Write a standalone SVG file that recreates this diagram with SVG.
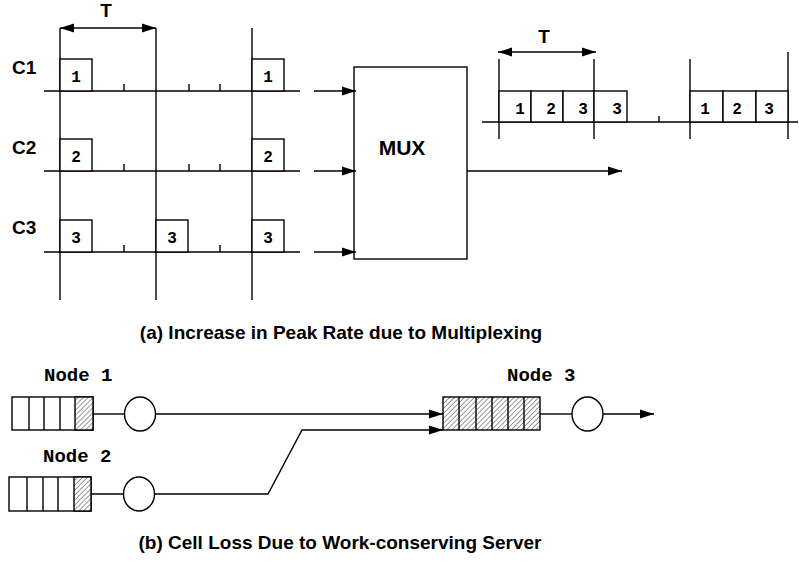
<svg xmlns="http://www.w3.org/2000/svg" width="799" height="564" viewBox="0 0 799 564">
<defs>
<style>
.ln{stroke:#000;stroke-width:1.4;fill:none}
.bx{stroke:#000;stroke-width:1.4;fill:#fff}
.hb{stroke:#000;stroke-width:1.4;fill:url(#hatch)}
.lbl{font-family:"Liberation Sans",Arial,sans-serif;font-weight:bold;font-size:19px;fill:#000}
.dg{font-family:"Liberation Mono","Courier New",monospace;font-weight:bold;font-size:16px;fill:#000;text-anchor:middle}
.nd{font-family:"Liberation Mono","Courier New",monospace;font-weight:bold;font-size:19px;fill:#000}
.cap{font-family:"Liberation Sans",Arial,sans-serif;font-weight:bold;font-size:19px;fill:#000;text-anchor:middle}
</style>
<marker id="arr" markerUnits="userSpaceOnUse" markerWidth="14" markerHeight="10" refX="14" refY="4.5" orient="auto-start-reverse" viewBox="0 0 14 9">
<path d="M0,0 L14,4.5 L0,9 z" fill="#000"/>
</marker>
<pattern id="hatch" patternUnits="userSpaceOnUse" width="3.5" height="3.5" patternTransform="rotate(45)">
<rect width="3.5" height="3.5" fill="#fff"/>
<line x1="0" y1="0" x2="0" y2="3.5" stroke="#444" stroke-width="1.1"/>
</pattern>
</defs>
<rect width="799" height="564" fill="#fff"/>

<!-- Part (a) -->
<g id="frame-left">
<line class="ln" x1="60" y1="28" x2="60" y2="300"/>
<line class="ln" x1="156" y1="28" x2="156" y2="300"/>
<line class="ln" x1="252" y1="28" x2="252" y2="300"/>
<line class="ln" x1="60" y1="28" x2="156" y2="28" marker-start="url(#arr)" marker-end="url(#arr)"/>
<text class="lbl" x="106" y="17" text-anchor="middle">T</text>
</g>

<g id="C1">
<text class="lbl" x="12" y="74">C1</text>
<line class="ln" x1="44" y1="91" x2="300" y2="91"/>
<path class="ln" d="M124,84V91M189,84V91M220,84V91"/>
<rect class="bx" x="60" y="59" width="32" height="32"/>
<text class="dg" x="76" y="82">1</text>
<rect class="bx" x="252" y="59" width="32" height="32"/>
<text class="dg" x="268" y="82">1</text>
</g>

<g id="C2">
<text class="lbl" x="12" y="154">C2</text>
<line class="ln" x1="44" y1="171" x2="300" y2="171"/>
<path class="ln" d="M124,164V171M189,164V171M220,164V171"/>
<rect class="bx" x="60" y="139" width="32" height="32"/>
<text class="dg" x="76" y="162">2</text>
<rect class="bx" x="252" y="139" width="32" height="32"/>
<text class="dg" x="268" y="162">2</text>
</g>

<g id="C3">
<text class="lbl" x="12" y="234">C3</text>
<line class="ln" x1="44" y1="252" x2="300" y2="252"/>
<path class="ln" d="M124,245V252M220,245V252"/>
<rect class="bx" x="60" y="220" width="32" height="32"/>
<text class="dg" x="76" y="243">3</text>
<rect class="bx" x="156" y="220" width="32" height="32"/>
<text class="dg" x="172" y="243">3</text>
<rect class="bx" x="252" y="220" width="32" height="32"/>
<text class="dg" x="268" y="243">3</text>
</g>

<g id="MUX">
<rect class="bx" x="354" y="67" width="113" height="192"/>
<text class="lbl" x="402" y="155" text-anchor="middle" style="font-size:21px">MUX</text>
</g>

<g id="output-stream">
<line class="ln" x1="482" y1="122" x2="798" y2="122"/>
<line class="ln" x1="499" y1="59" x2="499" y2="139"/>
<line class="ln" x1="594" y1="59" x2="594" y2="139"/>
<line class="ln" x1="690" y1="59" x2="690" y2="139"/>
<line class="ln" x1="788" y1="52" x2="788" y2="139"/>
<line class="ln" x1="659" y1="116" x2="659" y2="122"/>
<line class="ln" x1="498" y1="52" x2="596" y2="52" marker-start="url(#arr)" marker-end="url(#arr)"/>
<text class="lbl" x="544" y="43" text-anchor="middle">T</text>
<rect class="bx" x="499" y="91" width="32" height="31"/>
<rect class="bx" x="531" y="91" width="32" height="31"/>
<rect class="bx" x="563" y="91" width="31" height="31"/>
<rect class="bx" x="594" y="91" width="33" height="31"/>
<rect class="bx" x="690" y="91" width="33" height="31"/>
<rect class="bx" x="723" y="91" width="33" height="31"/>
<rect class="bx" x="756" y="91" width="32" height="31"/>
<text class="dg" x="520" y="114">1</text>
<text class="dg" x="551" y="114">2</text>
<text class="dg" x="583" y="114">3</text>
<text class="dg" x="617" y="114">3</text>
<text class="dg" x="705" y="114">1</text>
<text class="dg" x="737" y="114">2</text>
<text class="dg" x="769" y="114">3</text>
</g>

<g id="connectors-a">
<line class="ln" x1="314" y1="91" x2="356" y2="91" marker-end="url(#arr)"/>
<line class="ln" x1="314" y1="171" x2="356" y2="171" marker-end="url(#arr)"/>
<line class="ln" x1="314" y1="252" x2="356" y2="252" marker-end="url(#arr)"/>
<line class="ln" x1="467" y1="171" x2="622" y2="171" marker-end="url(#arr)"/>
</g>

<text class="cap" x="341" y="339">(a) Increase in Peak Rate due to Multiplexing</text>

<!-- Part (b) -->
<g id="node1">
<text class="nd" x="44" y="381">Node 1</text>
<rect class="bx" x="12" y="397" width="81" height="33"/>
<rect class="hb" x="75" y="397" width="18" height="33"/>
<path class="ln" d="M29,397V430M44,397V430M60,397V430"/>
<ellipse class="bx" cx="140" cy="414" rx="15.5" ry="17"/>
<line class="ln" x1="93" y1="414" x2="124.5" y2="414"/>
</g>

<g id="node2">
<text class="nd" x="43" y="462">Node 2</text>
<rect class="bx" x="9" y="477" width="82" height="34"/>
<rect class="hb" x="74" y="477" width="17" height="34"/>
<path class="ln" d="M27,477V511M43,477V511M58,477V511"/>
<ellipse class="bx" cx="139" cy="494" rx="15.5" ry="17"/>
<line class="ln" x1="91" y1="494" x2="123.5" y2="494"/>
</g>

<g id="node3">
<text class="nd" x="507" y="381">Node 3</text>
<rect class="hb" x="443" y="397" width="97" height="33"/>
<path class="ln" d="M459,397V430M476,397V430M492,397V430M508,397V430M524,397V430"/>
<line class="ln" x1="540" y1="414" x2="572" y2="414"/>
<ellipse class="bx" cx="587.5" cy="414" rx="15.5" ry="17"/>
</g>

<g id="connectors-b">
<line class="ln" x1="155.5" y1="414" x2="443" y2="414" marker-end="url(#arr)"/>
<polyline class="ln" points="154.5,494 268,494 302,430 443,430" marker-end="url(#arr)"/>
<line class="ln" x1="603" y1="414" x2="654" y2="414" marker-end="url(#arr)"/>
</g>

<text class="cap" x="340" y="549">(b) Cell Loss Due to Work-conserving Server</text>
</svg>
